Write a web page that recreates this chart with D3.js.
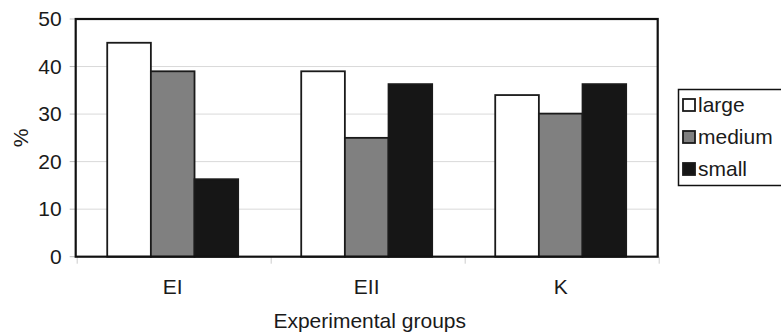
<!DOCTYPE html>
<html><head><meta charset="utf-8">
<script src="https://cdn.jsdelivr.net/npm/d3@7"></script>
<style>body{margin:0;background:#fff}svg{display:block}</style>
</head><body>
<script>
const categories = ["EI", "EII", "K"];
const seriesNames = ["large", "medium", "small"];
const large = [45, 39, 34];
const medium = [39, 25, 30.1];
const small = [16.3, 36.3, 36.3];
const yTicks = [0, 10, 20, 30, 40, 50];
const fills = ["#ffffff", "#808080", "#161616"];
const seriesValues = [large, medium, small];

const W = 781, H = 333;
const L = 75.7, R = 657.7, T = 19, B = 256.7;
const FONT = "'Liberation Sans', Arial, sans-serif";
const SX = 1.05, FS = 20, TXT = "#1a1a1a";

const svg = d3.select("body").append("svg").attr("width", W).attr("height", H);

const x0 = d3.scaleBand().domain(categories).range([L, R]).paddingInner(0).paddingOuter(0);
const gw = x0.bandwidth() * 0.675;
const x1 = d3.scaleBand().domain(seriesNames).range([0, gw]);
const y = d3.scaleLinear().domain([0, 50]).range([B, T]);

function txt(x, yy, s, anchor, rot) {
  const g = svg.append("g").attr("transform", `translate(${x},${yy})` + (rot ? ` rotate(${rot})` : "") + ` scale(${SX},1)`);
  g.append("text").attr("text-anchor", anchor).attr("font-family", FONT).attr("font-size", FS).attr("fill", TXT).text(s);
  return g;
}

// gridlines
svg.append("g").selectAll("line").data(yTicks.filter(d => d > 0 && d < 50)).join("line")
  .attr("x1", L).attr("x2", R).attr("y1", d => y(d)).attr("y2", d => y(d))
  .attr("stroke", "#d9d9d9").attr("stroke-width", 1);

// y ticks
svg.append("g").selectAll("line").data(yTicks).join("line")
  .attr("x1", L - 6).attr("x2", L).attr("y1", d => y(d)).attr("y2", d => y(d))
  .attr("stroke", "#bbb").attr("stroke-width", 1);
yTicks.forEach(d => txt(L - 14, y(d) + 7, String(d), "end"));

// x ticks at category boundaries
const bounds = categories.map(c => x0(c)).concat([R]);
svg.append("g").selectAll("line").data(bounds).join("line")
  .attr("x1", d => d + 1.5).attr("x2", d => d + 1.5).attr("y1", B).attr("y2", B + 7)
  .attr("stroke", "#ccc").attr("stroke-width", 1);

// bars
const grp = svg.append("g").selectAll("g").data(categories).join("g")
  .attr("transform", c => `translate(${x0(c) + (x0.bandwidth() - gw) / 2},0)`);
grp.selectAll("rect").data((c, i) => seriesNames.map((s, j) => ({ s, v: seriesValues[j][i], j })))
  .join("rect")
  .attr("x", d => x1(d.s)).attr("width", x1.bandwidth())
  .attr("y", d => y(d.v)).attr("height", d => B - y(d.v))
  .attr("fill", d => fills[d.j]).attr("stroke", "#1a1a1a").attr("stroke-width", 1.8);

// frame
svg.append("rect").attr("x", L).attr("y", T).attr("width", R - L).attr("height", B - T)
  .attr("fill", "none").attr("stroke", "#111").attr("stroke-width", 2.2);

// category labels
categories.forEach(c => txt(x0(c) + x0.bandwidth() / 2, 294, c, "middle"));

// axis titles
txt((L + R) / 2 + 3, 328, "Experimental groups", "middle");
txt(28, 138, "%", "middle", -90);

// legend
svg.append("rect").attr("x", 678.5).attr("y", 89.5).attr("width", 110).attr("height", 96)
  .attr("fill", "#fff").attr("stroke", "#111").attr("stroke-width", 1.5);
seriesNames.forEach((s, j) => {
  const cy = 105 + j * 32;
  svg.append("rect").attr("x", 683).attr("y", cy - 6).attr("width", 12).attr("height", 12)
    .attr("fill", fills[j]).attr("stroke", "#1a1a1a").attr("stroke-width", 1.8);
  txt(698, cy + 7, s, "start");
});
</script>
</body></html>
